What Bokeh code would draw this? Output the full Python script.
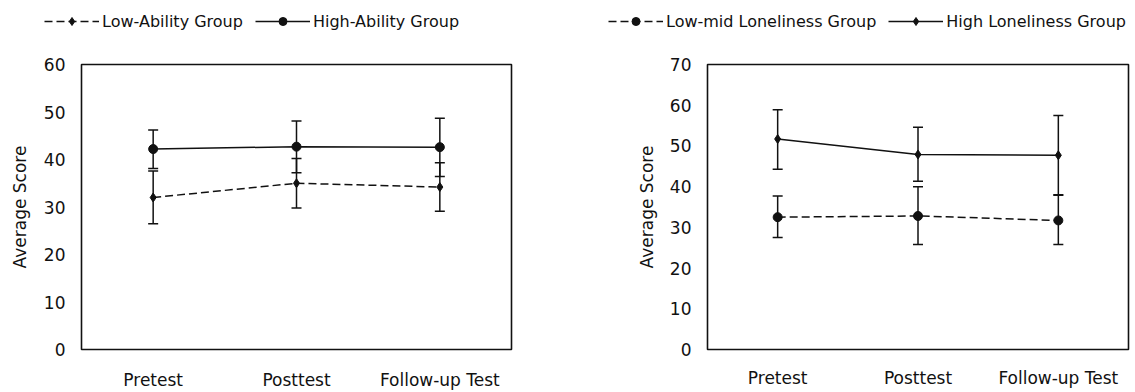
from bokeh.plotting import figure
from bokeh.models import (ColumnDataSource, Whisker, TeeHead, Legend, LegendItem,
                          FactorRange, Range1d, FixedTicker)
from bokeh.layouts import row, column
from bokeh.embed import file_html
from bokeh.resources import INLINE

# ---------------- data ----------------
tests = ["Pretest", "Posttest", "Follow-up Test"]

# left chart: ability groups
low_ability_mean = [32.0, 35.0, 34.2]
low_ability_upper = [37.6, 40.2, 39.3]
low_ability_lower = [26.5, 29.8, 29.1]
high_ability_mean = [42.2, 42.7, 42.6]
high_ability_upper = [46.2, 48.1, 48.7]
high_ability_lower = [38.1, 37.2, 36.4]

# right chart: loneliness groups
lowmid_lon_mean = [32.5, 32.8, 31.7]
lowmid_lon_upper = [37.7, 40.0, 38.0]
lowmid_lon_lower = [27.5, 25.8, 25.8]
high_lon_mean = [51.7, 47.9, 47.7]
high_lon_upper = [58.9, 54.6, 57.5]
high_lon_lower = [44.3, 41.3, 37.9]

y_max_left = 60
y_max_right = 70
y_ticks_left = [0, 10, 20, 30, 40, 50, 60]
y_ticks_right = [0, 10, 20, 30, 40, 50, 60, 70]

FONT = "DejaVu Sans"
INK = "#111111"
LEG_H = 36
CHART_H = 356

# one strip across the top that carries both legends; its y-range lies
# outside the data so the sample renderers only show up in the legends
lg = figure(width=1132, height=LEG_H, min_border=0,
            x_range=FactorRange(*tests), y_range=Range1d(-2, -1),
            output_backend="svg", toolbar_location=None, tools="",
            x_axis_type=None, y_axis_type=None)
lg.xgrid.visible = False
lg.ygrid.visible = False
lg.outline_line_color = None
lg.border_fill_color = "white"
lg.background_fill_color = "white"


def make_panel(width, bl, br, bt, bb, x_standoff, ymax, yticks, series, legend_xy, label_standoff):
    p = figure(x_range=FactorRange(*tests), y_range=Range1d(0, ymax),
               width=width, height=CHART_H,
               min_border_left=bl, min_border_top=bt, min_border_right=br, min_border_bottom=bb,
               output_backend="svg", toolbar_location=None, tools="")
    p.xgrid.visible = False
    p.ygrid.visible = False
    p.outline_line_color = INK
    p.outline_line_width = 1.6
    p.background_fill_color = "white"
    p.border_fill_color = "white"

    p.yaxis.ticker = FixedTicker(ticks=yticks)
    p.yaxis.axis_label = "Average Score"
    p.yaxis.axis_label_text_font = FONT
    p.yaxis.axis_label_text_font_size = "17px"
    p.yaxis.axis_label_text_font_style = "normal"
    p.yaxis.axis_label_text_color = INK
    p.yaxis.axis_label_standoff = label_standoff
    for ax in (p.xaxis[0], p.yaxis[0]):
        ax.axis_line_color = None
        ax.major_tick_line_color = None
        ax.minor_tick_line_color = None
        ax.major_tick_in = 0
        ax.major_tick_out = 0
        ax.major_label_text_font = FONT
        ax.major_label_text_font_size = "17px"
        ax.major_label_text_color = INK
    p.yaxis.major_label_standoff = 16
    p.xaxis.major_label_standoff = x_standoff

    items = []
    for name, mean, up, lo, dash, marker, msize in series:
        src = ColumnDataSource(dict(x=tests, y=mean, upper=up, lower=lo))
        w = Whisker(source=src, base="x", upper="upper", lower="lower",
                    line_color=INK, line_width=1.5,
                    upper_head=TeeHead(size=10, line_color=INK, line_width=1.5),
                    lower_head=TeeHead(size=10, line_color=INK, line_width=1.5))
        p.add_layout(w)
        p.line("x", "y", source=src, line_color=INK, line_width=1.5, line_dash=dash)
        p.scatter("x", "y", source=src, marker=marker, size=msize,
                  fill_color=INK, line_color=INK)
        # legend sample renderers in the top strip (outside its visible range)
        ln = lg.line("x", "y", source=src, line_color=INK, line_width=1.5, line_dash=dash)
        sc = lg.scatter("x", "y", source=src, marker=marker, size=msize,
                        fill_color=INK, line_color=INK)
        items.append(LegendItem(label=name, renderers=[ln, sc]))

    leg = Legend(items=items, orientation="horizontal", location=legend_xy,
                 glyph_width=55, glyph_height=20, label_standoff=3, spacing=12,
                 padding=0, margin=0, border_line_color=None,
                 background_fill_alpha=0, label_text_font=FONT,
                 label_text_font_size="16px", label_text_color=INK)
    lg.add_layout(leg)
    return p


left = make_panel(
    width=552, bl=81, br=41, bt=24, bb=40, x_standoff=20, ymax=y_max_left,
    yticks=y_ticks_left,
    series=[("Low-Ability Group", low_ability_mean, low_ability_upper, low_ability_lower,
             "8 4", "diamond", 9),
            ("High-Ability Group", high_ability_mean, high_ability_upper, high_ability_lower,
             "solid", "circle", 9)],
    legend_xy=(44, 5), label_standoff=11)

right = make_panel(
    width=580, bl=155, br=4, bt=28, bb=38, x_standoff=18, ymax=y_max_right,
    yticks=y_ticks_right,
    series=[("Low-mid Loneliness Group", lowmid_lon_mean, lowmid_lon_upper, lowmid_lon_lower,
             "8 4", "circle", 9),
            ("High Loneliness Group", high_lon_mean, high_lon_upper, high_lon_lower,
             "solid", "diamond", 9)],
    legend_xy=(608, 5), label_standoff=10)

layout = column(lg, row(left, right, spacing=0), spacing=0)
open("out.html", "w").write(file_html(layout, INLINE))
